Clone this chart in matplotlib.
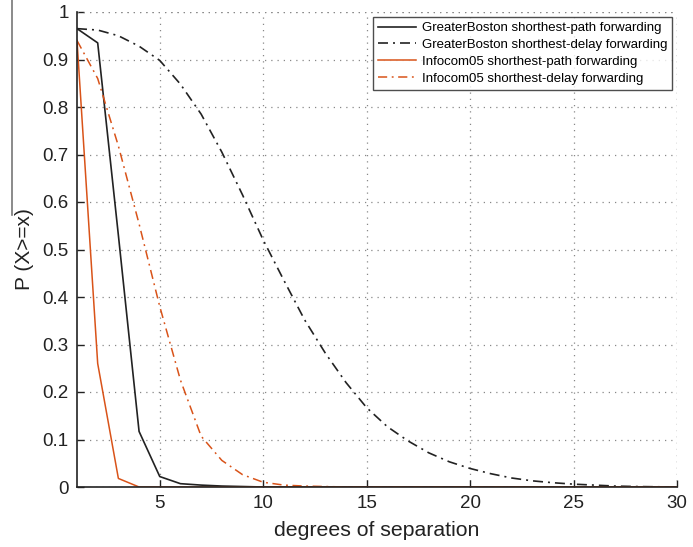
import matplotlib
matplotlib.use("Agg")
import matplotlib.pyplot as plt
from matplotlib.lines import Line2D

plt.rcParams['font.family'] = ['Liberation Sans', 'DejaVu Sans']

degrees = list(range(1, 31))

gb_path = [0.965, 0.935, 0.53, 0.117, 0.022, 0.007, 0.004, 0.002, 0.001] + [0.0] * 21
gb_delay = [0.965, 0.962, 0.95, 0.928, 0.898, 0.848, 0.785, 0.705, 0.615, 0.52,
            0.435, 0.352, 0.282, 0.22, 0.167, 0.127, 0.097, 0.072, 0.053, 0.039,
            0.028, 0.019, 0.013, 0.009, 0.006, 0.004, 0.002, 0.001, 0.0005, 0.0]
inf_path = [0.94, 0.26, 0.018] + [0.0] * 27
inf_delay = [0.94, 0.86, 0.718, 0.554, 0.38, 0.225, 0.107, 0.056, 0.026, 0.01,
             0.004, 0.002, 0.001] + [0.0] * 17

labels = ["GreaterBoston shorthest-path forwarding",
          "GreaterBoston shorthest-delay forwarding",
          "Infocom05 shorthest-path forwarding",
          "Infocom05 shorthest-delay forwarding"]

black = '#222222'
orange = '#D95319'
dashdot = (0, (6, 3, 1.2, 3))

fig = plt.figure(figsize=(6.93, 5.47), dpi=100)
ax = fig.add_axes([77/693, 60/547, 600/693, 475/547])

ax.plot(degrees, gb_path, color=black, lw=1.2, ls='-', label=labels[0])
ax.plot(degrees, gb_delay, color=black, lw=1.2, ls=dashdot, label=labels[1])
ax.plot(degrees, inf_path, color=orange, lw=1.1, ls='-', label=labels[2])
ax.plot(degrees, inf_delay, color=orange, lw=1.1, ls=dashdot, label=labels[3])

ax.set_xlim(1, 30)
ax.set_ylim(0, 1)
ax.set_xticks([5, 10, 15, 20, 25, 30])
ax.set_yticks([i / 10 for i in range(11)])
ax.set_yticklabels(['0', '0.1', '0.2', '0.3', '0.4', '0.5', '0.6', '0.7', '0.8', '0.9', '1'])

ax.spines['top'].set_visible(False)
ax.spines['right'].set_visible(False)
for s in ('left', 'bottom'):
    ax.spines[s].set_color(black)
    ax.spines[s].set_linewidth(1.2)

ax.tick_params(direction='in', length=5, width=1, labelsize=13.5, colors=black, pad=6)
ax.grid(True, ls=(0, (1, 4)), color='#888888', lw=0.9)
ax.axvline(30, ls=(0, (1, 4)), color='#888888', lw=0.9)
ax.axhline(1, ls=(0, (1, 4)), color='#888888', lw=0.9)

ax.set_xlabel('degrees of separation', fontsize=15.3, color=black, labelpad=6)
ax.set_ylabel('P (X>=x)', fontsize=15, color=black, labelpad=6)

leg = ax.legend(loc='upper right', fontsize=9.5, frameon=True, fancybox=False,
                edgecolor=black, borderaxespad=0.35, handlelength=2.9,
                labelspacing=0.35, borderpad=0.4, handletextpad=0.4)
leg.get_frame().set_linewidth(1.0)

fig.add_artist(Line2D([12/693, 12/693], [1.0, 1 - 215/547], color='#777777', lw=1.2))

fig.savefig('out.png', dpi=100)
